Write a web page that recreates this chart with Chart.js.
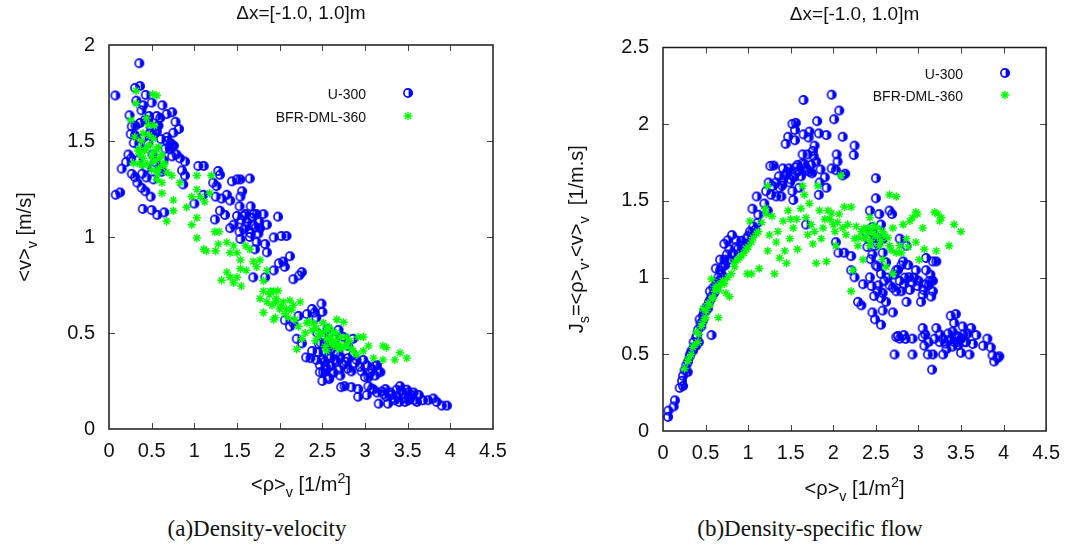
<!DOCTYPE html>
<html>
<head>
<meta charset="utf-8">
<script src="https://cdn.jsdelivr.net/npm/chart.js@4.4.0/dist/chart.umd.min.js"></script>
<style>
  body{margin:0;background:#fff;width:1070px;height:550px;overflow:hidden;position:relative;font-family:"Liberation Sans",Arial,sans-serif}
  .box{position:absolute;top:0;width:535px;height:505px}
  #boxA{left:0}
  #boxB{left:535px}
  .cap{position:absolute;top:516px;font-family:"Liberation Serif",serif;font-size:23px;transform:translateX(-50%);white-space:nowrap;color:#111}
</style>
</head>
<body>
<div class="box" id="boxA"><canvas id="chA"></canvas></div>
<div class="box" id="boxB"><canvas id="chB"></canvas></div>
<div class="cap" style="left:257px">(a)Density-velocity</div>
<div class="cap" style="left:810px">(b)Density-specific flow</div>
<script>
// tick values
const xTicks  = [0, 0.5, 1, 1.5, 2, 2.5, 3, 3.5, 4, 4.5];
const yTicksA = [0, 0.5, 1, 1.5, 2];
const yTicksB = [0, 0.5, 1, 1.5, 2, 2.5];
const seriesNames = ['U-300', 'BFR-DML-360'];

// (a) density-velocity, [rho, v]
const uA = [
  [0.355,1.905],[0.074,1.737],[0.305,1.777],[0.363,1.786],[0.43,1.74],[0.32,1.71],[0.24,1.634],[0.40,1.686],[0.50,1.70],[0.625,1.686],
  [0.676,1.64],[0.74,1.65],[0.78,1.60],[0.82,1.563],[0.754,1.543],[0.266,1.576],[0.305,1.53],[0.254,1.536],[0.363,1.594],[0.46,1.61],
  [0.56,1.63],[0.60,1.62],[0.56,1.576],[0.48,1.54],[0.676,1.50],[0.72,1.49],[0.76,1.475],[0.715,1.457],[0.79,1.43],[0.74,1.42],
  [0.83,1.41],[0.89,1.393],[0.227,1.43],[0.20,1.39],[0.148,1.356],[0.266,1.329],[0.305,1.311],[0.332,1.283],[0.383,1.256],[0.426,1.238],
  [0.488,1.21],[0.44,1.31],[0.52,1.30],[0.078,1.22],[0.129,1.232],[0.395,1.146],[0.50,1.14],[0.566,1.115],[0.648,1.128],[0.855,1.347],
  [0.89,1.32],[0.87,1.274],[1.047,1.37],[1.11,1.37],[1.0,1.174],[1.105,1.22],[1.22,1.283],[1.28,1.344],[1.30,1.324],[1.26,1.265],
  [1.25,1.21],[1.32,1.20],[1.38,1.22],[1.42,1.19],[1.30,1.137],[1.24,1.091],[1.36,1.115],[1.44,1.29],[1.50,1.30],[1.54,1.30],
  [1.65,1.305],[1.56,1.238],[1.54,1.21],[1.53,1.16],[1.66,1.16],[1.50,1.11],[1.58,1.11],[1.46,1.064],[1.42,1.046],[1.53,1.027],
  [1.61,1.055],[1.69,1.064],[1.77,1.046],[1.85,1.064],[1.73,1.119],[1.81,1.119],[1.54,0.99],[1.66,1.02],[1.75,1.018],[1.73,0.973],
  [1.71,0.936],[1.83,0.963],[1.85,0.92],[1.98,1.106],[1.93,0.998],[2.02,1.005],[2.08,1.005],[2.12,0.90],[1.99,0.863],[2.04,0.872],
  [2.06,0.845],[1.93,0.826],[1.83,0.79],[1.69,0.79],[2.16,0.78],[2.26,0.817],[2.23,0.80],[2.06,0.567],[2.12,0.534],[2.16,0.552],
  [2.22,0.589],[2.32,0.598],[2.38,0.625],[2.41,0.607],[2.49,0.653],[2.50,0.61],[2.43,0.58],[2.20,0.47],[2.26,0.446],[2.31,0.373],
  [2.36,0.369],[2.38,0.406],[2.46,0.442],[2.43,0.36],[2.47,0.333],[2.53,0.406],[2.57,0.424],[2.53,0.351],[2.60,0.369],[2.67,0.351],
  [2.71,0.378],[2.75,0.333],[2.80,0.369],[2.86,0.388],[2.88,0.342],[2.94,0.324],[3.02,0.333],[3.08,0.314],[3.14,0.333],[3.18,0.296],
  [3.12,0.278],[3.04,0.269],[2.54,0.324],[2.51,0.296],[2.57,0.269],[2.47,0.296],[2.63,0.296],[2.71,0.278],[2.80,0.314],[2.75,0.479],
  [2.69,0.516],[2.65,0.47],[2.80,0.433],[2.86,0.47],[2.72,0.218],[2.76,0.223],[2.84,0.218],[2.92,0.208],[2.92,0.168],[3.04,0.223],
  [3.02,0.177],[3.10,0.205],[3.16,0.132],[3.20,0.196],[3.24,0.208],[3.25,0.168],[3.31,0.177],[3.37,0.205],[3.41,0.223],[3.45,0.186],
  [3.49,0.205],[3.51,0.15],[3.55,0.177],[3.61,0.141],[3.63,0.177],[3.68,0.15],[3.74,0.15],[3.80,0.159],[3.84,0.141],[3.90,0.122],
  [3.96,0.122],[3.47,0.141],[3.35,0.15],[3.27,0.132],
  [0.31,1.58],[0.36,1.47],[0.41,1.52],[0.44,1.36],[0.51,1.43],[0.54,1.39],[0.61,1.51],[0.66,1.46],[0.34,1.40],[0.39,1.33],
  [0.46,1.49],[0.56,1.55],[0.59,1.35],[0.64,1.40],[0.71,1.47],[0.29,1.49],[0.26,1.41],[0.42,1.61],[0.52,1.53],[0.58,1.58],
  [0.68,1.52],[0.62,1.34],[0.49,1.57],[0.38,1.66],[0.47,1.63],
  [1.55,1.09],[1.60,1.12],[1.62,1.08],[1.68,1.10],[1.72,1.05],[1.58,1.04],[1.65,1.00],[1.70,1.12],[1.76,1.08],
  [2.45,0.40],[2.48,0.45],[2.52,0.48],[2.55,0.44],[2.58,0.38],[2.62,0.42],[2.50,0.36],[2.55,0.31],[2.60,0.33],[2.65,0.36],
  [2.68,0.40],[2.44,0.50],[2.56,0.52],[2.62,0.29],[2.70,0.31],[2.78,0.35],[2.84,0.30],[2.90,0.36],[2.96,0.30],[3.00,0.27],
  [3.06,0.29],[3.12,0.33],[3.16,0.30],[2.98,0.36],[2.50,0.25],[2.58,0.26],
  [3.30,0.19],[3.38,0.17],[3.42,0.20],[3.46,0.16],[3.50,0.19],[3.53,0.16],[3.57,0.19],[3.40,0.14],[3.33,0.16],[3.58,0.15],
  [3.22,0.18],[3.14,0.19],[3.08,0.21]
];
const bA = [
  [0.316,1.762],[0.56,1.737],[0.51,1.744],[0.254,1.609],[0.32,1.695],[0.40,1.539],[0.46,1.585],[0.52,1.512],[0.44,1.466],[0.344,1.448],
  [0.56,1.457],[0.60,1.411],[0.50,1.42],[0.637,1.375],[0.58,1.356],[0.676,1.338],[0.735,1.32],[0.285,1.384],[0.40,1.375],[0.52,1.393],
  [0.363,1.43],[0.62,1.283],[0.56,1.30],[0.62,1.228],[0.676,1.082],[0.754,1.192],[0.754,1.137],[0.83,1.283],[0.91,1.155],[0.97,1.21],
  [1.03,1.32],[1.03,1.247],[1.07,1.21],[1.12,1.183],[1.20,1.32],[1.18,1.228],[1.03,1.10],[0.97,1.064],[1.03,0.995],[1.11,0.936],
  [1.14,0.927],[1.24,1.027],[1.29,1.027],[1.25,0.927],[1.28,0.963],[1.38,0.972],[1.42,0.918],[1.46,0.954],[1.50,0.918],[1.54,0.88],
  [1.60,0.954],[1.38,0.817],[1.32,0.775],[1.42,0.79],[1.46,0.762],[1.50,0.79],[1.55,0.744],[1.54,0.835],[1.61,0.826],[1.65,0.936],
  [1.69,0.872],[1.73,0.845],[1.77,0.88],[1.81,0.772],[1.85,0.826],[1.81,0.717],[1.77,0.68],[1.85,0.662],[1.89,0.717],[1.93,0.717],
  [1.96,0.68],[1.91,0.644],[1.81,0.607],[2.00,0.625],[2.04,0.662],[2.08,0.625],[2.12,0.67],[2.16,0.644],[2.24,0.662],[1.95,0.58],
  [1.93,0.57],[2.22,0.534],[2.20,0.415],[2.26,0.47],[2.32,0.552],[2.38,0.516],[2.43,0.525],[2.47,0.497],[2.51,0.552],[2.55,0.516],
  [2.59,0.479],[2.63,0.506],[2.67,0.57],[2.75,0.556],[2.71,0.479],[2.78,0.479],[2.82,0.46],[2.63,0.433],[2.55,0.406],[2.69,0.415],
  [2.75,0.424],[2.86,0.406],[2.92,0.479],[2.98,0.479],[3.04,0.433],[2.98,0.406],[3.10,0.369],[3.21,0.433],[3.25,0.424],[3.21,0.36],
  [3.35,0.36],[3.41,0.397],[3.49,0.369],[2.90,0.388],
  [0.38,1.50],[0.42,1.45],[0.48,1.48],[0.52,1.44],[0.55,1.40],[0.45,1.38],[0.50,1.35],[0.58,1.47],[0.35,1.46],[0.62,1.43],
  [0.40,1.41],[0.47,1.53],[0.53,1.58],[0.44,1.62],[0.57,1.33],[0.65,1.38],[0.36,1.38],[0.30,1.52],
  [1.88,0.70],[1.95,0.66],[2.02,0.64],[2.06,0.60],[2.10,0.58],[2.14,0.62],[2.18,0.57],[1.98,0.72],[2.30,0.50],[2.34,0.56],
  [2.40,0.55],[2.45,0.48],[2.50,0.50],[2.55,0.47],[2.60,0.45],[2.65,0.46],[2.70,0.44],[2.78,0.44],[2.84,0.42],[2.58,0.53],
  [2.66,0.50],[2.42,0.46],[2.53,0.43]
];

// (b) density-specific flow, [rho, Js]
const uB = [
  [0.059,0.092],[0.063,0.133],[0.125,0.16],[0.14,0.20],[0.196,0.281],[0.223,0.327],[0.235,0.36],[0.254,0.396],[0.274,0.43],[0.293,0.453],
  [0.313,0.487],[0.333,0.522],[0.36,0.545],[0.39,0.556],[0.42,0.579],[0.39,0.613],[0.41,0.659],[0.45,0.682],[0.43,0.728],[0.47,0.751],
  [0.49,0.785],[0.51,0.808],[0.54,0.842],[0.57,0.876],[0.55,0.911],[0.59,0.934],[0.63,0.968],[0.65,1.002],[0.62,1.059],[0.67,1.048],
  [0.70,1.071],[0.67,1.117],[0.72,1.117],[0.75,1.151],[0.78,1.185],[0.72,1.22],[0.76,1.243],[0.81,1.277],[0.86,1.243],[0.88,1.185],
  [0.57,0.625],[0.48,0.773],[0.35,0.522],[0.29,0.384],[0.235,0.293],[0.94,1.208],[0.98,1.254],[1.02,1.30],[1.06,1.334],[1.08,1.311],
  [1.05,1.449],[1.10,1.529],[1.11,1.357],[1.12,1.41],[1.19,1.483],[1.21,1.563],[1.23,1.437],[1.24,1.62],[1.26,1.728],[1.30,1.73],
  [1.29,1.597],[1.33,1.62],[1.27,1.54],[1.37,1.586],[1.33,1.529],[1.39,1.529],[1.41,1.632],[1.45,1.677],[1.48,1.712],[1.41,1.712],
  [1.43,1.666],[1.52,1.563],[1.53,1.506],[1.49,1.62],[1.54,1.654],[1.58,1.689],[1.58,1.735],[1.64,1.746],[1.68,1.716],[1.74,1.735],
  [1.72,1.689],[1.64,1.803],[1.70,1.803],[1.76,1.826],[1.78,1.86],[1.77,1.792],[1.80,1.757],[1.85,1.705],[1.92,1.586],[1.90,1.654],
  [1.84,1.62],[1.83,1.54],[1.68,1.346],[1.60,1.586],[1.44,1.872],[1.47,1.918],[1.52,2.002],[1.56,2.009],[1.55,1.963],[1.55,1.895],
  [1.65,1.934],[1.72,1.952],[1.71,1.913],[1.83,1.94],[1.81,2.02],[1.92,1.929],[1.65,2.158],[1.98,2.192],[2.01,2.032],[2.07,2.089],
  [2.11,1.918],[2.04,1.803],[2.05,1.757],[1.98,1.712],[2.03,1.70],[2.11,1.666],[2.14,1.677],[2.25,1.86],[2.24,1.799],[2.03,1.231],
  [2.06,1.162],[2.13,1.162],[2.21,1.14],[2.21,1.048],[2.25,1.002],[2.29,0.842],[2.33,0.819],[2.35,0.957],[2.43,1.002],[2.45,0.945],
  [2.46,0.773],[2.49,0.728],[2.46,1.151],[2.49,1.208],[2.43,1.437],[2.50,1.648],[2.50,1.517],[2.54,1.414],[2.56,1.346],[2.54,1.254],
  [2.58,1.162],[2.52,1.071],[2.56,1.025],[2.60,0.979],[2.52,0.911],[2.56,0.865],[2.62,0.842],[2.56,0.693],[2.58,0.785],[2.70,0.773],
  [2.66,1.437],[2.69,1.414],[2.78,1.254],[2.86,1.208],[2.82,1.105],[2.74,1.048],[2.78,0.979],[2.83,0.957],[2.74,0.911],[2.86,0.842],
  [2.70,0.934],[2.80,0.911],[2.89,1.002],[2.93,0.968],[2.97,1.048],[2.99,0.945],[3.03,0.842],[3.05,0.888],[3.09,0.957],[3.13,0.979],
  [3.17,0.911],[3.15,0.876],[3.09,1.128],[3.17,1.105],[3.21,1.105],[3.09,1.048],[3.17,0.979],[2.88,1.082],[2.72,0.499],[2.74,0.613],
  [2.78,0.602],[2.83,0.625],[2.93,0.499],[2.93,0.602],[3.05,0.613],[3.05,0.671],[3.07,0.556],[3.11,0.499],[3.16,0.40],[3.17,0.499],
  [3.19,0.602],[3.21,0.671],[3.25,0.579],[3.29,0.499],[3.33,0.533],[3.36,0.59],[3.40,0.648],[3.42,0.705],[3.44,0.762],[3.38,0.751],
  [3.48,0.613],[3.50,0.51],[3.52,0.682],[3.58,0.636],[3.60,0.499],[3.62,0.671],[3.64,0.567],[3.56,0.579],[3.46,0.579],[3.35,0.636],
  [3.29,0.602],[3.76,0.556],[3.81,0.602],[3.85,0.545],[3.87,0.494],[3.89,0.453],[3.93,0.476],[3.95,0.487],[3.68,0.625],
  [2.38,1.30],[2.42,1.25],[2.46,1.33],[2.48,1.28],[2.52,1.22],[2.40,1.20],[2.55,1.30],[2.58,1.25],[2.44,1.12],[2.50,1.08],
  [2.53,0.95],[2.48,0.88],[2.58,0.90],[2.62,1.10],[2.64,1.00],[2.66,0.95],[2.72,1.02],[2.76,1.05],[2.80,1.08],[2.84,1.00],
  [2.90,0.92],[2.95,1.00],[3.00,0.98],[3.06,0.92],[3.12,0.95],[3.14,1.02],
  [1.36,1.66],[1.40,1.60],[1.46,1.69],[1.50,1.64],[1.56,1.72],[1.60,1.70],[1.62,1.66],[1.66,1.74],[1.70,1.70],[1.75,1.68],
  [0.44,0.70],[0.47,0.72],[0.50,0.78],[0.53,0.80],[0.56,0.86],[0.60,0.90],[0.62,0.95],[0.66,0.98],[0.69,1.02],[0.73,1.08],
  [0.78,1.12],[0.82,1.16],[0.86,1.20],[0.92,1.24],[0.97,1.22],[1.00,1.27],[1.04,1.29],[0.36,0.58],[0.40,0.62],[0.32,0.50],
  [3.38,0.60],[3.42,0.58],[3.45,0.62],[3.47,0.56],[3.50,0.60],[3.53,0.63],[3.40,0.55],[3.32,0.57],[3.55,0.58],[3.25,0.63],
  [3.12,0.58],[3.08,0.63],[2.76,0.62],[2.85,0.60]
];
const bB = [
  [0.254,0.407],[0.29,0.453],[0.333,0.499],[0.35,0.545],[0.41,0.579],[0.39,0.648],[0.45,0.682],[0.49,0.728],[0.51,0.785],[0.47,0.796],
  [0.55,0.819],[0.59,0.865],[0.57,0.991],[0.61,0.911],[0.65,0.739],[0.67,0.957],[0.74,0.899],[0.78,0.876],[0.70,0.979],[0.80,1.025],
  [0.84,1.071],[0.88,1.117],[0.92,1.14],[0.98,1.185],[0.99,1.025],[1.04,1.025],[1.04,1.231],[1.02,1.368],[1.10,1.288],[1.13,1.059],
  [1.21,1.414],[1.23,1.597],[1.23,1.174],[1.25,1.277],[1.31,1.025],[1.33,1.231],[1.37,1.128],[1.41,1.368],[1.43,1.174],[1.45,1.094],
  [1.47,1.437],[1.49,1.254],[1.53,1.323],[1.57,1.38],[1.58,1.185],[1.64,1.597],[1.66,1.54],[1.68,1.391],[1.72,1.483],[1.74,1.346],
  [1.76,1.22],[1.78,1.30],[1.80,1.094],[1.82,1.597],[1.84,1.437],[1.86,1.254],[1.88,1.323],[1.92,1.105],[1.94,1.437],[1.96,1.38],
  [2.00,1.346],[2.02,1.30],[2.03,1.208],[2.07,1.414],[2.09,1.666],[2.11,1.323],[2.13,1.46],[2.17,1.346],[2.21,0.911],[2.21,1.46],
  [2.23,1.048],[2.25,1.254],[2.27,1.334],[2.29,1.208],[2.33,1.30],[2.35,1.117],[2.37,1.254],[2.41,1.323],[2.43,1.208],[2.45,1.30],
  [2.49,1.277],[2.52,1.323],[2.54,1.208],[2.58,1.30],[2.62,1.071],[2.66,1.54],[2.74,1.529],[2.66,1.208],[2.70,1.323],[2.74,1.162],
  [2.78,1.208],[2.82,1.346],[2.86,1.254],[2.90,1.368],[2.93,1.391],[2.97,1.426],[2.99,1.414],[2.97,1.231],[3.01,1.117],[3.05,1.323],
  [3.07,1.185],[3.19,1.426],[3.23,1.414],[3.25,1.368],[3.21,1.174],[3.27,1.391],[3.36,1.208],[3.42,1.346],[3.50,1.30],[2.70,1.025],
  [2.58,1.117],[2.43,1.391],
  [0.30,0.47],[0.37,0.56],[0.42,0.63],[0.46,0.70],[0.50,0.74],[0.53,0.83],[0.58,0.87],[0.62,0.94],[0.66,0.92],[0.72,0.96],
  [0.76,1.00],[0.84,1.10],[0.90,1.13],[0.95,1.16],[1.00,1.20],[1.06,1.26],[1.12,1.30],[1.16,1.36],[1.20,1.45],[1.28,1.40],
  [1.35,1.30],[1.50,1.38],[1.62,1.45],[1.70,1.28],[1.90,1.38],[1.98,1.42],[2.05,1.36],[2.15,1.28],[2.30,1.26],[2.36,1.32],
  [2.40,1.28],[2.44,1.24],[2.48,1.34],[2.52,1.27],[2.56,1.24],[2.60,1.28],[2.64,1.26],[2.68,1.18],[2.80,1.16],[2.88,1.20]
];

const FONT = '"Liberation Sans", Arial, sans-serif';
const BLUE = '#0000ff';
const GREEN = '#00ff00';

// gnuplot-like half filled circle
function makeDot(){
  const c = document.createElement('canvas');
  c.width = 12; c.height = 12;
  const g = c.getContext('2d');
  g.strokeStyle = BLUE; g.fillStyle = BLUE; g.lineWidth = 1.6;
  g.beginPath(); g.arc(6, 6, 4.1, 0, Math.PI*2); g.stroke();
  g.beginPath(); g.arc(6.6, 6, 4.1, -Math.PI/2, Math.PI/2); g.closePath(); g.fill();
  return c;
}
const dot = makeDot();

function drawStar(ctx, x, y, r){
  ctx.beginPath();
  ctx.moveTo(x-r, y); ctx.lineTo(x+r, y);
  ctx.moveTo(x, y-r); ctx.lineTo(x, y+r);
  const d = r*0.707;
  ctx.moveTo(x-d, y-d); ctx.lineTo(x+d, y+d);
  ctx.moveTo(x-d, y+d); ctx.lineTo(x+d, y-d);
  ctx.stroke();
}

// text with sub/superscripts, parts = [text, 0 normal | 1 sub | 2 sup]
function rich(ctx, parts, x, y, size, rotate){
  ctx.save();
  ctx.translate(x, y);
  if (rotate) ctx.rotate(-Math.PI/2);
  ctx.textAlign = 'left'; ctx.textBaseline = 'alphabetic';
  const fs = k => (k ? size*0.72 : size);
  let w = 0;
  parts.forEach(p => { ctx.font = fs(p[1]) + 'px ' + FONT; w += ctx.measureText(p[0]).width; });
  let cx = -w/2;
  parts.forEach(p => {
    ctx.font = fs(p[1]) + 'px ' + FONT;
    const dy = p[1] === 1 ? size*0.3 : (p[1] === 2 ? -size*0.42 : 0);
    ctx.fillText(p[0], cx, size*0.36 + dy);
    cx += ctx.measureText(p[0]).width;
  });
  ctx.restore();
}

const deco = {
  id: 'deco',
  afterDraw(chart, args, o){
    const {ctx, chartArea: a} = chart;
    const x = chart.scales.x, y = chart.scales.y;
    ctx.save();
    // inward ticks on all four sides
    ctx.strokeStyle = '#444'; ctx.lineWidth = 1;
    ctx.beginPath();
    xTicks.forEach(v => {
      if (v <= 0 || v >= 4.5) return;
      const px = Math.round(x.getPixelForValue(v)) + 0.5;
      ctx.moveTo(px, a.top); ctx.lineTo(px, a.top + 6);
      ctx.moveTo(px, a.bottom); ctx.lineTo(px, a.bottom - 6);
    });
    o.yTicks.forEach(v => {
      if (v <= o.yTicks[0] || v >= o.yTicks[o.yTicks.length-1]) return;
      const py = Math.round(y.getPixelForValue(v)) + 0.5;
      ctx.moveTo(a.left, py); ctx.lineTo(a.left + 6, py);
      ctx.moveTo(a.right, py); ctx.lineTo(a.right - 6, py);
    });
    ctx.stroke();
    // frame
    ctx.strokeStyle = '#1a1a1a'; ctx.lineWidth = 1.5;
    ctx.strokeRect(a.left, a.top, a.right - a.left, a.bottom - a.top);

    ctx.fillStyle = '#111';
    const cxp = (a.left + a.right)/2;
    // title
    ctx.font = '19px ' + FONT; ctx.textAlign = 'center'; ctx.textBaseline = 'middle';
    ctx.fillText('\u0394x=[-1.0, 1.0]m', cxp, o.titleY);
    // axis titles
    rich(ctx, [['<\u03c1>',0],['v',1],[' [1/m',0],['2',2],[']',0]], cxp, o.xTitleY, 20, false);
    rich(ctx, o.yTitle, o.yTitleX, (a.top + a.bottom)/2, 20, true);
    // legend
    ctx.font = '14px ' + FONT; ctx.textAlign = 'right'; ctx.textBaseline = 'middle';
    ctx.fillText(seriesNames[0], o.legX, o.legY[0]);
    ctx.fillText(seriesNames[1], o.legX, o.legY[1]);
    ctx.drawImage(dot, o.legMX - 6, o.legY[0] - 8);
    ctx.strokeStyle = GREEN; ctx.lineWidth = 1.4;
    drawStar(ctx, o.legMX, o.legY[1] - 2, 4.3);
    ctx.restore();
  }
};

function makeChart(id, u, b, yTicks, cfg){
  const yMax = yTicks[yTicks.length-1];
  const tickFont = {family: FONT, size: 20};
  const fmt = v => String(v);
  return new Chart(document.getElementById(id), {
    type: 'scatter',
    data: {
      datasets: [
        {label: seriesNames[0], data: u.map(p => ({x: p[0], y: p[1]})), pointStyle: dot,
         pointRadius: 4.5, order: 2},
        {label: seriesNames[1], data: b.map(p => ({x: p[0], y: p[1]})), pointStyle: 'star',
         pointRadius: 4.2, borderColor: GREEN, backgroundColor: GREEN, borderWidth: 1.4, order: 1}
      ]
    },
    options: {
      responsive: true,
      maintainAspectRatio: false,
      animation: false,
      layout: {padding: {top: cfg.top, right: cfg.right, bottom: 0, left: 0}},
      plugins: {legend: {display: false}, tooltip: {enabled: false}, title: {display: false},
        deco: cfg.deco},
      scales: {
        x: {type: 'linear', min: 0, max: 4.5,
          afterBuildTicks: s => { s.ticks = xTicks.map(v => ({value: v})); },
          afterFit: s => { s.height = cfg.xh; },
          ticks: {font: tickFont, color: '#111', padding: 10, maxRotation: 0, autoSkip: false, callback: fmt},
          grid: {display: false, drawTicks: false, tickLength: 0}, border: {display: false}},
        y: {type: 'linear', min: 0, max: yMax,
          afterBuildTicks: s => { s.ticks = yTicks.map(v => ({value: v})); },
          afterFit: s => { s.width = cfg.yw; },
          ticks: {font: tickFont, color: '#111', padding: 14, autoSkip: false, callback: fmt},
          grid: {display: false, drawTicks: false, tickLength: 0}, border: {display: false}}
      }
    },
    plugins: [deco]
  });
}

makeChart('chA', uA, bA, yTicksA, {
  top: 45, right: 42, xh: 76, yw: 109,
  deco: {yTicks: yTicksA, titleY: 14, xTitleY: 484, yTitleX: 24,
    yTitle: [['<v>',0],['v',1],[' [m/s]',0]],
    legX: 366, legY: [95, 118], legMX: 408}
});
makeChart('chB', uB, bB, yTicksB, {
  top: 47.5, right: 23, xh: 74, yw: 128,
  deco: {yTicks: yTicksB, titleY: 15, xTitleY: 488, yTitleX: 41,
    yTitle: [['J',0],['s',1],['=<\u03c1>',0],['v',1],['.<v>',0],['v',1],['  [1/m.s]',0]],
    legX: 428, legY: [75, 97], legMX: 470}
});
</script>
</body>
</html>
